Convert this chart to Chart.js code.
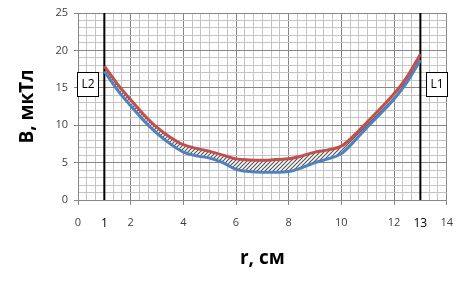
<!DOCTYPE html>
<html><head><meta charset="utf-8">
<script src="https://cdn.jsdelivr.net/npm/chart.js@4/dist/chart.umd.min.js"></script>
<style>html,body{margin:0;padding:0;background:#fff}#wrap{width:464px;height:282px;position:relative}</style>
</head><body><div id="wrap"><canvas id="c" width="464" height="282"></canvas></div>
<script>
const rValues = [1,1.5,2,2.5,3,3.5,4,4.5,5,5.5,6,6.5,7,7.5,8,8.5,9,9.5,10,10.5,11,11.5,12,12.5,13];
const upperB  = [17.9,15.5,13.4,11.4,9.7,8.4,7.4,6.9,6.5,6.0,5.5,5.35,5.3,5.4,5.5,5.9,6.4,6.7,7.2,8.7,10.5,12.3,14.2,16.5,19.5];
const lowerB  = [17.2,14.7,12.6,10.6,8.9,7.5,6.4,5.9,5.6,5.0,4.1,3.8,3.7,3.7,3.8,4.3,5.0,5.5,6.2,7.9,9.8,11.6,13.5,15.8,18.7];
const xTickLabels = [0,1,2,4,6,8,10,12,13,14];
const yTickLabels = [0,5,10,15,20,25];
const markerR = [1,13];
const markerNames = ['L2','L1'];
const markerSide = [-1, 1];
const xTitle = 'r, см';
const yTitle = 'B, мкТл';
const Y_MIN = 0, Y_MAX = 25;

function hatch(){
  const s = 4, cv = document.createElement('canvas');
  cv.width = s; cv.height = s;
  const g = cv.getContext('2d');
  g.fillStyle = '#fff'; g.fillRect(0,0,s,s);
  g.strokeStyle = '#555'; g.lineWidth = 1.2;
  g.beginPath();
  g.moveTo(0,s); g.lineTo(s,0);
  g.moveTo(-1,1); g.lineTo(1,-1);
  g.moveTo(s-1,s+1); g.lineTo(s+1,s-1);
  g.stroke();
  return g.createPattern(cv,'repeat');
}
const near = (v,a) => a.some(t => Math.abs(t - v) < 1e-6);
const tv = c => (c && c.tick) ? c.tick.value : NaN;
const isMarker = v => near(v, markerR);
const isEven = v => Math.abs(v/2 - Math.round(v/2)) < 1e-6;
const FONT = '"Open Sans", sans-serif';

const boxPlugin = {
  id: 'boxes',
  afterDatasetsDraw(chart){
    const {ctx, scales:{x,y}} = chart;
    ctx.save();
    markerR.forEach((r,i) => {
      const px = x.getPixelForValue(r);
      const w = 21, h = 24;
      const cy = y.getPixelForValue(15.5);
      const left = Math.round(markerSide[i] < 0 ? px - 6 - w : px + 6);
      const top = Math.round(cy - h/2);
      ctx.fillStyle = '#fff';
      ctx.fillRect(left, top, w, h);
      ctx.strokeStyle = '#000'; ctx.lineWidth = 1;
      ctx.strokeRect(left+0.5, top+0.5, w, h);
      ctx.fillStyle = '#000';
      ctx.font = '12px ' + FONT;
      ctx.textAlign = 'center'; ctx.textBaseline = 'middle';
      ctx.fillText(markerNames[i], left + w/2 + 0.5, top + h/2 + 1);
    });
    ctx.restore();
  }
};

const markerSets = markerR.map(r => ({
  data:[{x:r,y:Y_MIN},{x:r,y:Y_MAX}], borderColor:'#000', borderWidth:2, pointRadius:0, fill:false, order:2
}));

new Chart(document.getElementById('c'), {
  type: 'line',
  data: {
    datasets: [
      { data: rValues.map((r,i)=>({x:r,y:upperB[i]})), borderColor:'#C0504D', borderWidth:3, pointRadius:0, tension:0.4, cubicInterpolationMode:'monotone', fill:'+1', backgroundColor: hatch(), order:0 },
      { data: rValues.map((r,i)=>({x:r,y:lowerB[i]})), borderColor:'#4F81BD', borderWidth:3, pointRadius:0, tension:0.4, cubicInterpolationMode:'monotone', fill:false, order:1 },
      ...markerSets
    ]
  },
  options: {
    responsive:false, animation:false, devicePixelRatio:1,
    layout:{padding:{top:13,right:10,left:0,bottom:0}},
    plugins:{legend:{display:false}, tooltip:{enabled:false}, filler:{drawTime:'beforeDatasetsDraw'}},
    scales:{
      x:{
        type:'linear', min:0, max:14,
        afterBuildTicks(s){ const t=[]; for(let k=0;k<=42;k++) t.push({value:k/3}); s.ticks=t; },
        afterFit(s){ s.height = 82; },
        border:{color:'#878787', width:1},
        grid:{
          color: c => isEven(tv(c)) ? '#878787' : '#c4c4c4',
          tickLength:5,
          tickColor: c => isEven(tv(c)) ? '#878787' : 'rgba(0,0,0,0)'
        },
        ticks:{
          autoSkip:false, maxRotation:0, padding:11,
          callback: v => near(v, xTickLabels) ? String(Math.round(v)) : '',
          color: c => isMarker(tv(c)) ? '#000' : '#404040',
          font: c => isMarker(tv(c)) ? {family:FONT, size:12} : {family:FONT, size:11}
        },
        title:{display:true, text:xTitle, color:'#000', font:{family:FONT, size:19, weight:'bold'}, padding:{top:2,bottom:12}}
      },
      y:{
        min:Y_MIN, max:Y_MAX,
        afterBuildTicks(s){ const t=[]; for(let k=Y_MIN;k<=Y_MAX;k++) t.push({value:k}); s.ticks=t; },
        afterFit(s){ s.width = 78; },
        border:{color:'#878787', width:1},
        grid:{
          color: c => tv(c) % 5 === 0 ? '#878787' : '#c4c4c4',
          tickLength:4,
          tickColor: c => tv(c) % 5 === 0 ? '#878787' : 'rgba(0,0,0,0)'
        },
        ticks:{
          autoSkip:false, padding:6, color:'#404040',
          callback: v => near(v, yTickLabels) ? String(v) : '',
          font:{family:FONT, size:11}
        },
        title:{display:true, text:yTitle, color:'#000', font:{family:FONT, size:19, weight:'bold'}, padding:{top:16,bottom:0}}
      }
    }
  },
  plugins:[boxPlugin]
});
</script></body></html>
